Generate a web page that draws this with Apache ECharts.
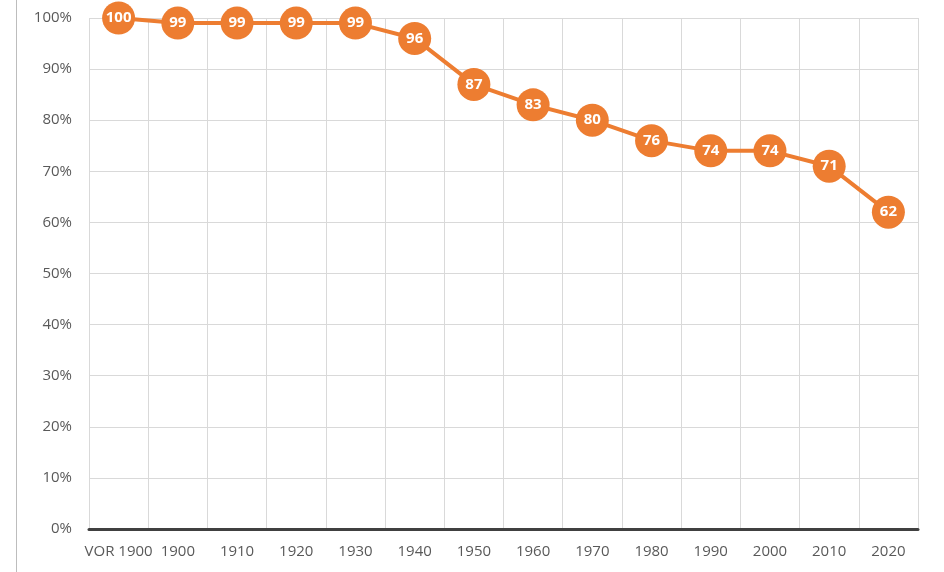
<!DOCTYPE html>
<html>
<head>
<meta charset="utf-8">
<script src="https://cdn.jsdelivr.net/npm/echarts@6/dist/echarts.min.js"></script>
<style>
  html, body { margin: 0; padding: 0; background: #fff; }
  #main { width: 944px; height: 572px; }
</style>
</head>
<body>
<div id="main"></div>
<script>
var categories = ['VOR 1900', '1900', '1910', '1920', '1930', '1940', '1950', '1960', '1970', '1980', '1990', '2000', '2010', '2020'];
var shares = [100, 99, 99, 99, 99, 96, 87, 83, 80, 76, 74, 74, 71, 62];
var yTicks = [0, 10, 20, 30, 40, 50, 60, 70, 80, 90, 100];

var myChart = echarts.init(document.getElementById('main'));
var option = {
    animation: false,
    textStyle: { fontFamily: 'Open Sans, sans-serif' },
    grid: { left: 89, right: 26, top: 18, bottom: 43 },
    graphic: [{
        type: 'line',
        shape: { x1: 16.5, y1: 0, x2: 16.5, y2: 572 },
        style: { stroke: '#bdbdbd', lineWidth: 1 }
    }],
    xAxis: {
        type: 'category',
        data: categories,
        boundaryGap: true,
        axisLine: { lineStyle: { color: '#404040', width: 3 } },
        axisTick: { show: false },
        axisLabel: { color: '#595959', fontSize: 15, margin: 15, interval: 0 },
        splitLine: { show: true, interval: 0, lineStyle: { color: '#d9d9d9', width: 1 } }
    },
    yAxis: {
        type: 'value',
        min: yTicks[0],
        max: yTicks[yTicks.length - 1],
        interval: 10,
        axisLine: { show: false },
        axisTick: { show: false },
        axisLabel: { color: '#595959', fontSize: 15, margin: 17, formatter: '{value}%' },
        splitLine: { lineStyle: { color: '#d9d9d9', width: 1 } }
    },
    series: [{
        type: 'line',
        data: shares,
        symbol: 'circle',
        symbolSize: 33,
        itemStyle: { color: '#ed7d31' },
        lineStyle: { color: '#ed7d31', width: 4 },
        label: {
            show: true,
            position: 'inside',
            color: '#fff',
            fontSize: 15,
            fontWeight: 'bold'
        }
    }]
};
myChart.setOption(option);
</script>
</body>
</html>
